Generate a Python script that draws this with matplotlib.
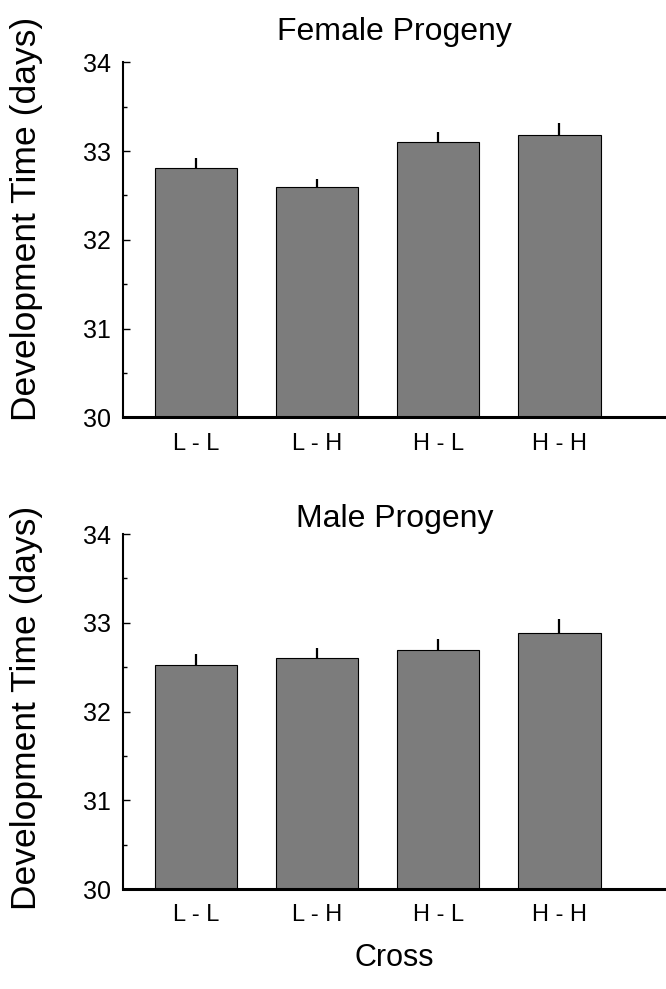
import numpy as np
import matplotlib.pyplot as plt
from matplotlib.ticker import MultipleLocator

plt.rcParams['font.family'] = ['Liberation Sans', 'DejaVu Sans']

# Data
crosses = ['L - L', 'L - H', 'H - L', 'H - H']
female_mean = [32.81, 32.59, 33.10, 33.18]
female_err = [0.11, 0.09, 0.11, 0.14]
male_mean = [32.52, 32.60, 32.69, 32.88]
male_err = [0.13, 0.12, 0.13, 0.16]

fig = plt.figure(figsize=(6.66, 9.89), dpi=100)
ax1 = fig.add_axes([0.185, 0.578, 0.815, 0.359])
ax2 = fig.add_axes([0.185, 0.101, 0.815, 0.359])

x = np.arange(len(crosses))
panels = [(ax1, female_mean, female_err, 'Female Progeny', 16, 0.56),
          (ax2, male_mean, male_err, 'Male Progeny', 3, 0.51)]

for ax, mean, err, title, tpad, ly in panels:
    ax.bar(x, np.array(mean) - 30, bottom=30, width=0.68,
           color='#7c7c7c', edgecolor='black', linewidth=0.8, zorder=2)
    ax.errorbar(x, mean, yerr=[np.zeros(len(err)), err], fmt='none',
                ecolor='black', elinewidth=1.6, capsize=0, zorder=3)
    ax.set_xlim(-0.6, 3.88)
    ax.set_ylim(30, 34)
    ax.yaxis.set_major_locator(MultipleLocator(1))
    ax.yaxis.set_minor_locator(MultipleLocator(0.5))
    ax.set_xticks(x)
    ax.set_xticklabels(crosses, fontsize=17)
    ax.tick_params(axis='x', length=0, pad=11)
    ax.tick_params(axis='y', which='major', direction='in', length=5,
                   width=1, labelsize=18, pad=9)
    ax.tick_params(axis='y', which='minor', direction='in', length=3, width=1)
    ax.spines['top'].set_visible(False)
    ax.spines['right'].set_visible(False)
    ax.spines['left'].set_linewidth(1.5)
    ax.spines['bottom'].set_linewidth(2.2)
    ax.set_title(title, fontsize=23, pad=tpad)
    ax.set_ylabel('Development Time (days)', fontsize=25.5)
    ax.yaxis.set_label_coords(-0.147, ly)

ax2.set_xlabel('Cross', fontsize=22, labelpad=12)

plt.savefig('out.png', dpi=100)
